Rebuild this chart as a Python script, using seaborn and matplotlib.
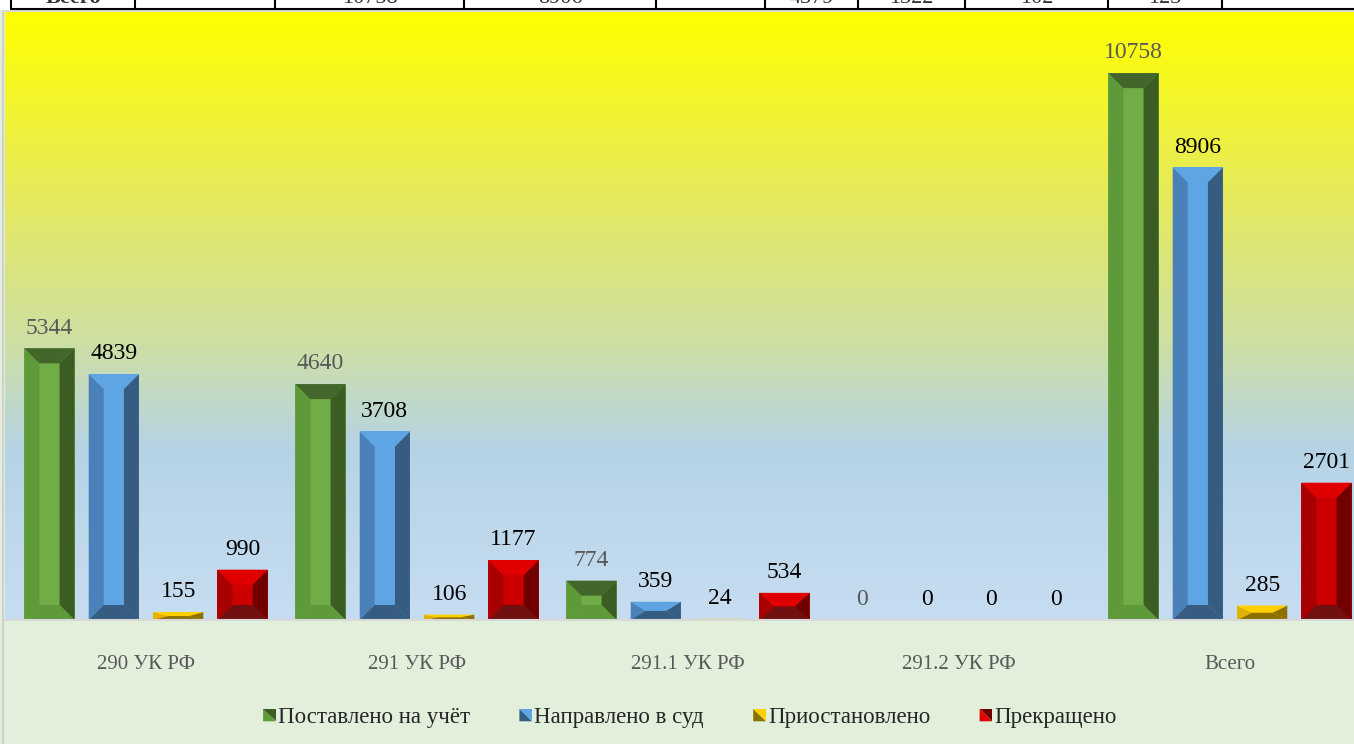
import numpy as np
import pandas as pd
import matplotlib
matplotlib.use("Agg")
import matplotlib.pyplot as plt
import seaborn as sns
from matplotlib.patches import Polygon, Rectangle
from matplotlib.lines import Line2D
from matplotlib.legend_handler import HandlerBase
from matplotlib.colors import LinearSegmentedColormap

# data
categories = ["290 УК РФ", "291 УК РФ", "291.1 УК РФ", "291.2 УК РФ", "Всего"]
series = ["Поставлено на учёт", "Направлено в суд", "Приостановлено", "Прекращено"]
registered = [5344, 4640, 774, 0, 10758]
to_court = [4839, 3708, 359, 0, 8906]
suspended = [155, 106, 24, 0, 285]
terminated = [990, 1177, 534, 0, 2701]

# table row cut off at the top of the picture
table_cells = ["Всего", "", "10758", "8906", "", "4379", "1322", "102", "123", ""]
table_lines_px = [11, 135, 275, 464, 656, 765, 858, 965, 1108, 1222, 1354]

# colours: face, left, top, right, bottom
bevels = {
    "Поставлено на учёт": ["#70AD47", "#5E9A3A", "#43672A", "#3B5D23", "#5E9A3A"],
    "Направлено в суд": ["#5FA5E3", "#4A81B8", "#5FA5E3", "#365C82", "#365C82"],
    "Приостановлено": ["#FFD000", "#E3B200", "#FFD000", "#8C7000", "#8C7000"],
    "Прекращено": ["#CC0000", "#A80000", "#E00000", "#700000", "#701010"],
}
label_colors = ["#595959", "black", "black", "black"]

df = pd.DataFrame({
    "Статья": categories * 4,
    "Число": registered + to_court + suspended + terminated,
    "Категория": [s for s in series for _ in categories],
})

sns.set_style("white")
plt.rcParams["font.family"] = ["Liberation Serif", "DejaVu Serif"]

W, H = 1354, 744
fig = plt.figure(figsize=(W / 100, H / 100), dpi=100, facecolor="#E2EFDA")
ax = fig.add_axes([5 / W, (H - 620) / H, (W - 5) / W, (620 - 12) / H])

# gradient plot area
cmap = LinearSegmentedColormap.from_list("bg", [
    (0.0, "#FFFF00"), (0.3, "#E6EA5C"), (0.55, "#CDDFA6"),
    (0.72, "#B6D3E6"), (1.0, "#C7DDF1")])
grad = np.linspace(0, 1, 256).reshape(-1, 1)
ax.imshow(grad, cmap=cmap, extent=[0, 1, 0, 1], transform=ax.transAxes,
          aspect="auto", zorder=0)

sns.barplot(data=df, x="Статья", y="Число", hue="Категория", order=categories,
            hue_order=series, palette=[bevels[s][0] for s in series],
            saturation=1, width=0.95, gap=0.22, legend=False, ax=ax, zorder=2,
            linewidth=0, err_kws={"linewidth": 0})

xmin, xmax = -141 / 271, (1349 - 141) / 271
ymax = 11960
ax.set_xlim(xmin, xmax)
ax.set_ylim(0, ymax)

# bevel in data units
ax_w_px = W - 5
ax_h_px = 608
bx = 15 * (xmax - xmin) / ax_w_px
by = 15 * ymax / ax_h_px

for s, cont, lc in zip(series, ax.containers, label_colors):
    face, left, top, right, bottom = bevels[s]
    for bar in cont:
        x0 = bar.get_x()
        w = bar.get_width()
        h = bar.get_height()
        x1 = x0 + w
        xc = x0 + w / 2
        if h > 0:
            b = min(by, h / 2)
            polys = [
                ([(x0, 0), (x0 + bx, b), (x0 + bx, h - b), (x0, h)], left),
                ([(x1, 0), (x1 - bx, b), (x1 - bx, h - b), (x1, h)], right),
                ([(x0, h), (x1, h), (x1 - bx, h - b), (x0 + bx, h - b)], top),
                ([(x0, 0), (x1, 0), (x1 - bx, b), (x0 + bx, b)], bottom),
            ]
            for pts, c in polys:
                ax.add_patch(Polygon(pts, closed=True, facecolor=c,
                                     edgecolor="none", zorder=3))
        ax.annotate(f"{int(h)}", (xc, h), xytext=(0, 7),
                    textcoords="offset points", ha="center", va="bottom",
                    fontsize=17, color=lc, zorder=5)

# axes styling
for sp in ["top", "right", "left"]:
    ax.spines[sp].set_visible(False)
ax.spines["bottom"].set_color("#D9D9D9")
ax.spines["bottom"].set_linewidth(1.5)
ax.spines["bottom"].set_zorder(4)
ax.set_yticks([])
ax.set_xlabel("")
ax.set_ylabel("")
ax.set_xticks(range(len(categories)))
ax.set_xticklabels(categories, fontsize=15, color="#595959")
ax.set_xticks([i - 0.5 for i in range(len(categories))], minor=True)
ax.tick_params(axis="x", which="major", length=0, pad=25)
ax.tick_params(axis="x", which="minor", length=4, width=1.2,
               color="#D9D9D9", direction="out")


# legend with two-tone squares
class TwoTone(HandlerBase):
    def create_artists(self, legend, orig_handle, xdescent, ydescent,
                       width, height, fontsize, trans):
        c1, c2 = orig_handle
        x0, y0 = -xdescent, -ydescent
        s = min(width, height)
        lower = Polygon([(x0, y0), (x0 + s, y0), (x0, y0 + s)],
                        facecolor=c1, edgecolor="none", transform=trans)
        upper = Polygon([(x0 + s, y0), (x0 + s, y0 + s), (x0, y0 + s)],
                        facecolor=c2, edgecolor="none", transform=trans)
        return [lower, upper]


handles = [(bevels[s][1], bevels[s][3]) for s in series]
handles[1] = (bevels[series[1]][4], bevels[series[1]][0])
handles[2] = (bevels[series[2]][4], bevels[series[2]][0])
handles[3] = (bevels[series[3]][2], bevels[series[3]][3])
fig.legend(handles, series, handler_map={tuple: TwoTone()},
           loc="center", bbox_to_anchor=(690 / W, 1 - 717 / H), ncol=4,
           frameon=False, fontsize=16.5, handlelength=0.55, handleheight=0.55,
           handletextpad=0.1, columnspacing=2.15)

# chart border and the cut table row above it
fig.add_artist(Line2D([3 / W, 3 / W], [0, 1 - 11 / H], transform=fig.transFigure,
                      color="#D0D0D0", lw=1.5))
fig.add_artist(Line2D([3 / W, 1], [1 - 11 / H, 1 - 11 / H], transform=fig.transFigure,
                      color="#D9D9D9", lw=1.5))
fig.add_artist(Rectangle((0, 1 - 10 / H), 1, 10 / H, transform=fig.transFigure,
                         facecolor="white", edgecolor="none"))
fig.add_artist(Line2D([11 / W, 1], [1 - 8.5 / H, 1 - 8.5 / H], transform=fig.transFigure,
                      color="black", lw=1.5))
for xp in table_lines_px[:-1]:
    fig.add_artist(Line2D([xp / W, xp / W], [1 - 8.5 / H, 1], transform=fig.transFigure,
                          color="black", lw=1.5))
for i, txt in enumerate(table_cells):
    if not txt:
        continue
    xc = (table_lines_px[i] + table_lines_px[i + 1]) / 2
    fig.text(xc / W, 1 - 3 / H, txt, ha="center", va="baseline", fontsize=16,
             fontweight="bold" if i == 0 else "normal", color="#333333")

fig.savefig("out.png", dpi=100, facecolor=fig.get_facecolor())
